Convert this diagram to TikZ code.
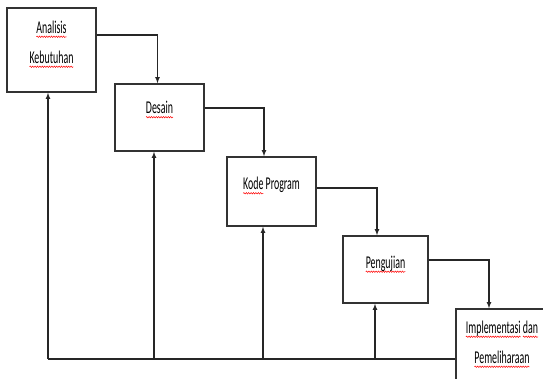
\documentclass[tikz,border=0pt]{standalone}
\usepackage{fontspec}
\setmainfont{Carlito}[FakeStretch=0.55]
\usetikzlibrary{arrows,decorations.pathmorphing}

% red squiggle of the spell checker
\newcommand{\spellerr}[1]{\setbox0\hbox{#1}\rlap{\tikz[overlay]\draw[red, line width=0.5pt,
    decorate, decoration={snake, amplitude=0.7pt, segment length=2.4pt}]
    (0pt,-3.5pt) -- (\wd0,-3.5pt);}\box0\relax}

\tikzset{
  stage/.style={draw, line width=1.4pt, color=black!80, text=black, minimum width=89pt,
    align=center, inner sep=0pt, font=\fontsize{18}{30}\selectfont},
  flow/.style={line width=1.1pt, color=black!85, >=latex},
}

\begin{document}
\begin{tikzpicture}[x=1pt, y=-1pt]
    \useasboundingbox (0,0) rectangle (543,378);
    \clip (0,0) rectangle (543,378);
    % Stages
    \node(analisis)[stage, minimum height=84pt, text depth=16pt] at (51.5,50)
      {\spellerr{Analisis}\\\spellerr{Kebutuhan}};
    \node(desain)[stage, minimum height=67pt, text depth=20pt] at (159.5,117.5)
      {\spellerr{Desain}};
    \node(kode)[stage, minimum height=69pt, text depth=16pt] at (271.5,191.5)
      {\spellerr{Kode} Program};
    \node(pengujian)[stage, minimum width=85pt, minimum height=67pt, text depth=15pt] at (385.5,269.5)
      {\spellerr{Pengujian}};
    \node(impl)[stage, minimum width=92pt, minimum height=96pt, text depth=30pt] at (502,357)
      {\spellerr{Implementasi} \spellerr{dan}\\\spellerr{Pemeliharaan}};
    % Flow downwards
    \draw[flow, ->] ([yshift=15pt]analisis.east) -| ([xshift=-2pt]desain.north);
    \draw[flow, ->] ([yshift=9.5pt]desain.east) -| ([xshift=-7.5pt]kode.north);
    \draw[flow, ->] ([yshift=3.5pt]kode.east) -| ([xshift=-8.5pt]pengujian.north);
    \draw[flow, ->] ([yshift=9.5pt]pengujian.east) -| ([xshift=-13pt]impl.north);
    % Feedback
    \coordinate (b1) at (48,359);
    \coordinate (b2) at (154,359);
    \coordinate (b3) at (263,359);
    \coordinate (b4) at (375,359);
    \draw[flow, line width=1.3pt] (b1) -- (b1 -| impl.west);
    \draw[flow, ->] (b1) -- (b1 |- analisis.south);
    \draw[flow, ->] (b2) -- (b2 |- desain.south);
    \draw[flow, ->] (b3) -- (b3 |- kode.south);
    \draw[flow, ->] (b4) -- (b4 |- pengujian.south);
\end{tikzpicture}
\end{document}
